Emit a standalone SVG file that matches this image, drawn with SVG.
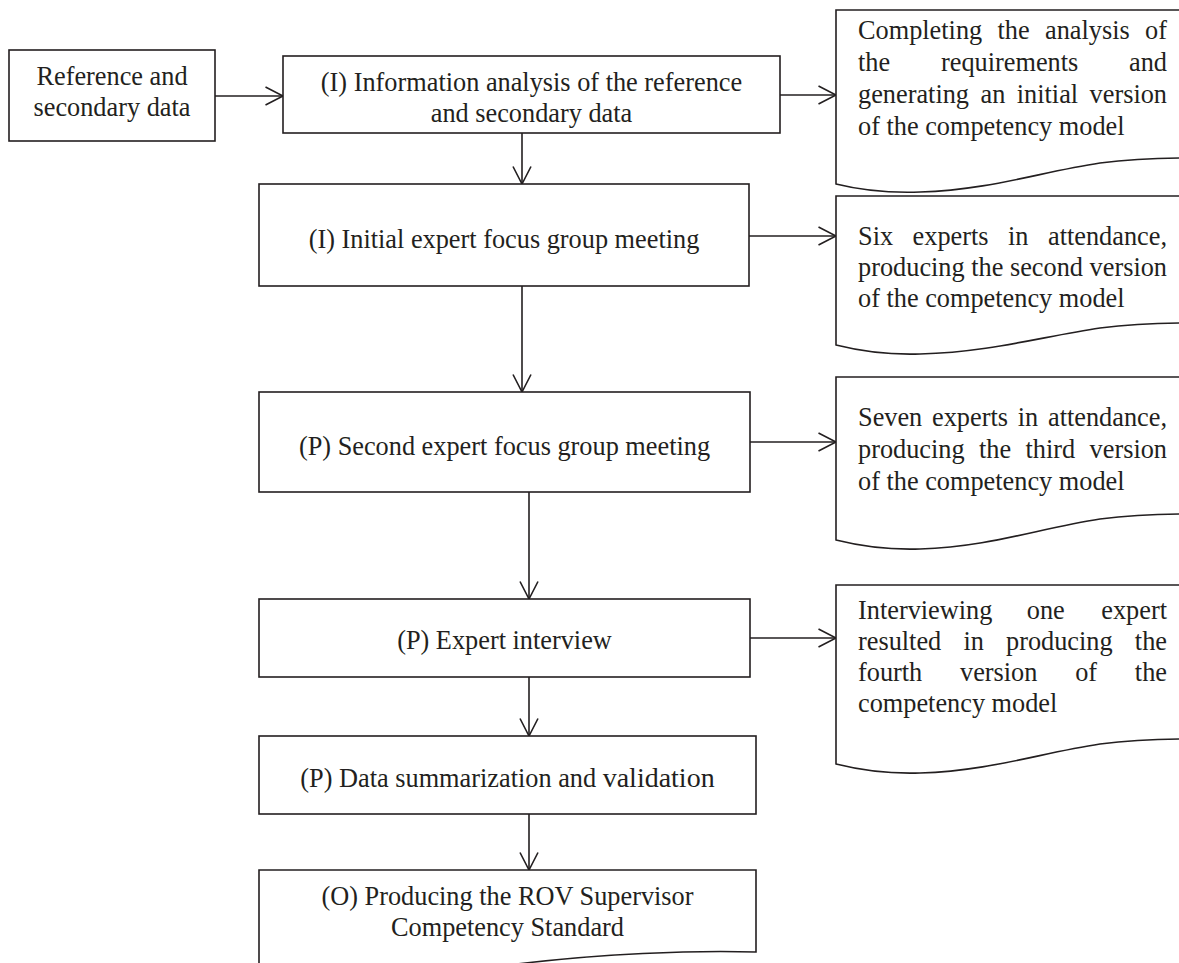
<svg xmlns="http://www.w3.org/2000/svg" width="1179" height="963" viewBox="0 0 1179 963">
<style>
.t{font-family:"Liberation Serif","Times New Roman",serif;font-size:26.3px;fill:#231f20}
.c{text-anchor:middle}
.e{text-anchor:end}
.box{fill:#fff;stroke:#231f20;stroke-width:1.6}
.conn{stroke:#231f20;stroke-width:1.6;fill:none;marker-end:url(#arr)}
</style>
<defs>
<marker id="arr" markerUnits="userSpaceOnUse" markerWidth="20" markerHeight="20" viewBox="0 0 20 20" refX="18.5" refY="10" orient="auto">
<path d="M1,1 L18.5,10 L1,19" fill="none" stroke="#231f20" stroke-width="1.6"/>
</marker>
</defs>
<rect width="1179" height="963" fill="#fff"/>

<g id="connectors">
<line class="conn" x1="215" y1="96" x2="283" y2="96"/>
<line class="conn" x1="780" y1="95" x2="836" y2="95"/>
<line class="conn" x1="522" y1="133" x2="522" y2="184"/>
<line class="conn" x1="749" y1="236" x2="836" y2="236"/>
<line class="conn" x1="522" y1="286" x2="522" y2="392"/>
<line class="conn" x1="750" y1="442" x2="836" y2="442"/>
<line class="conn" x1="529" y1="492" x2="529" y2="599"/>
<line class="conn" x1="750" y1="638" x2="836" y2="638"/>
<line class="conn" x1="529" y1="677" x2="529" y2="736"/>
<line class="conn" x1="529" y1="814" x2="529" y2="870"/>
</g>

<g id="n-ref">
<rect class="box" x="9" y="50" width="206" height="91"/>
<text class="t c" x="112" y="85">Reference and</text>
<text class="t c" x="112" y="116">secondary data</text>
</g>

<g id="n-info">
<rect class="box" x="283" y="56" width="497" height="77"/>
<text class="t c" x="531.5" y="91">(I) Information analysis of the reference</text>
<text class="t c" x="531.5" y="122">and secondary data</text>
</g>

<g id="n-doc1">
<path class="box" d="M836,10 H1190 V158 C1170,158 1140,158 1100,163 C1040,172 990,190 920,192 C890,193 860,190 836,184 Z"/>
<text class="t" y="39"><tspan x="858">Completing</tspan><tspan x="997.5">the</tspan><tspan x="1045">analysis</tspan></text>
<text class="t e" x="1167" y="39">of</text>
<text class="t" y="71"><tspan x="858">the</tspan><tspan x="941">requirements</tspan></text>
<text class="t e" x="1167" y="71">and</text>
<text class="t" y="103"><tspan x="858">generating</tspan><tspan x="980.5">an</tspan><tspan x="1016.8">initial</tspan></text>
<text class="t e" x="1167" y="103">version</text>
<text class="t" x="858" y="135">of the competency model</text>
</g>

<g id="n-meet1">
<rect class="box" x="259" y="184" width="490" height="102"/>
<text class="t c" x="504" y="248">(I) Initial expert focus group meeting</text>
</g>

<g id="n-doc2">
<path class="box" d="M836,196 H1190 V323 C1170,323 1140,323 1100,328 C1040,337 990,352 920,354 C890,355 860,351 836,345 Z"/>
<text class="t" y="245"><tspan x="858">Six</tspan><tspan x="912.6">experts</tspan><tspan x="1008">in</tspan></text>
<text class="t e" x="1167" y="245">attendance,</text>
<text class="t" x="858" y="276" textLength="309" lengthAdjust="spacing">producing the second version</text>
<text class="t" x="858" y="307">of the competency model</text>
</g>

<g id="n-meet2">
<rect class="box" x="259" y="392" width="491" height="100"/>
<text class="t c" x="504.5" y="455">(P) Second expert focus group meeting</text>
</g>

<g id="n-doc3">
<path class="box" d="M836,377 H1190 V514 C1170,514 1140,514 1100,519 C1040,528 990,547 920,549 C890,550 860,546 836,540 Z"/>
<text class="t" y="426"><tspan x="858">Seven</tspan><tspan x="932">experts</tspan><tspan x="1017.7">in</tspan></text>
<text class="t e" x="1167" y="426">attendance,</text>
<text class="t" y="458"><tspan x="858">producing</tspan><tspan x="979">the</tspan><tspan x="1025.5">third</tspan></text>
<text class="t e" x="1167" y="458">version</text>
<text class="t" x="858" y="490">of the competency model</text>
</g>

<g id="n-interview">
<rect class="box" x="259" y="599" width="491" height="78"/>
<text class="t c" x="504.5" y="649">(P) Expert interview</text>
</g>

<g id="n-doc4">
<path class="box" d="M836,585 H1190 V739 C1170,739 1140,739 1100,744 C1040,753 990,771 920,773 C890,774 860,770 836,764 Z"/>
<text class="t" y="619"><tspan x="858">Interviewing</tspan><tspan x="1026.8">one</tspan></text>
<text class="t e" x="1167" y="619">expert</text>
<text class="t" y="650"><tspan x="858">resulted</tspan><tspan x="963.4">in</tspan><tspan x="1006">producing</tspan></text>
<text class="t e" x="1167" y="650">the</text>
<text class="t" y="681"><tspan x="858">fourth</tspan><tspan x="960">version</tspan><tspan x="1075.2">of</tspan></text>
<text class="t e" x="1167" y="681">the</text>
<text class="t" x="858" y="712">competency model</text>
</g>

<g id="n-summary">
<rect class="box" x="259" y="736" width="497" height="78"/>
<text class="t c" x="507.5" y="787">(P) Data summarization and <tspan style="font-size:28px">validation</tspan></text>
</g>

<g id="n-standard">
<path class="box" d="M259,870 H756 V952 C690,950 600,954 517,964 C430,975 330,975 259,968 Z"/>
<text class="t c" x="507.5" y="905">(O) Producing the ROV Supervisor</text>
<text class="t c" x="507.5" y="936">Competency Standard</text>
</g>
</svg>
